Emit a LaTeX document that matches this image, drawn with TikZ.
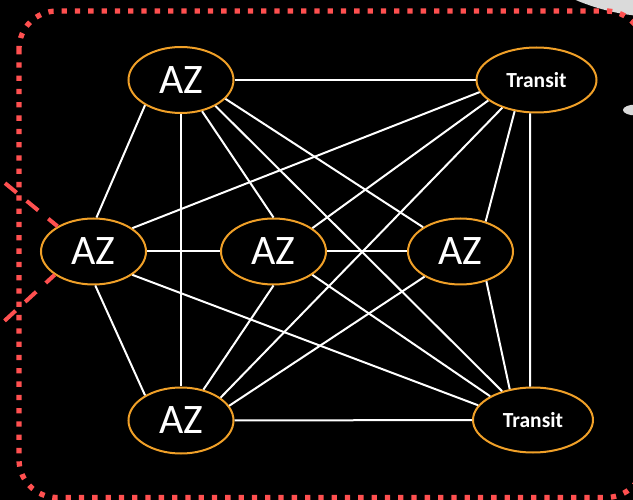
\documentclass[tikz,border=0pt]{standalone}
\usepackage{fontspec}
\setmainfont{Carlito}
\usetikzlibrary{shapes.geometric}
\definecolor{ornge}{RGB}{240,160,40}
\definecolor{redline}{RGB}{255,80,80}
\definecolor{lgray}{RGB}{218,218,218}
\begin{document}
\begin{tikzpicture}[x=1pt,y=-1pt,
  zone/.style={ellipse, draw=ornge, line width=2pt, fill=black, text=white, inner sep=0pt},
  az/.style={zone, minimum width=105pt, minimum height=66pt, font=\fontsize{42}{42}\selectfont},
  transit/.style={zone, minimum width=120pt, minimum height=65pt, font=\bfseries\fontsize{21.5}{22}\selectfont},
  link/.style={draw=white, line width=2pt},
  frame/.style={draw=redline, line width=5.3pt, dash pattern=on 5.3pt off 8pt, rounded corners=38pt},
  ray/.style={draw=redline, line width=4pt, dash pattern=on 15pt off 13pt, dash phase=3pt},
  blob/.style={fill=lgray, draw=none}]
\useasboundingbox (0,0) rectangle (633,500);
\clip (0,0) rectangle (633,500);
\fill[black] (0,0) rectangle (633,500);
% light grey shapes at the right edge
\fill[blob] (660,-200) circle[radius=217];
\fill[blob] (636,110) ellipse[x radius=13, y radius=5.5];
% nodes
\node[az] (A) at (181,80) {\raisebox{-2.5pt}{AZ}};
\node[transit] (T1) at (536.5,80) {\raisebox{-2pt}{Transit}};
\node[az] (L) at (93.5,251.5) {\raisebox{-2.5pt}{AZ}};
\node[az] (M) at (273.5,251.5) {\raisebox{-2.5pt}{AZ}};
\node[az] (R) at (460.5,251.5) {\raisebox{-2.5pt}{AZ}};
\node[az] (B) at (181,420.5) {\raisebox{-2.5pt}{AZ}};
\node[transit] (T2) at (533,420) {\raisebox{-2pt}{Transit}};
% connectors
\draw[link] (A.east) -- (T1.west);
\draw[link] (A.-145.8) -- (L.85.7);
\draw[link] (A.-56.2) -- (M.90);
\draw[link] (A.-23.6) -- (R.147.4);
\draw[link] (A.south) -- (B.north);
\draw[link] (A.-37.4) -- (T2.137.7);
\draw[link] (T1.-168.3) -- (L.31.9);
\draw[link] (T1.-157.8) -- (M.31.3);
\draw[link] (T1.-125.2) -- (R.50.2);
\draw[link] (T1.-141.1) -- (B.30.3);
\draw[link] (T1.-101) -- (T2.95);
\draw[link] (L.east) -- (M.west);
\draw[link] (L.-87.4) -- (B.145.9);
\draw[link] (L.-31.6) -- (T2.165.9);
\draw[link] (M.east) -- (R.west);
\draw[link] (M.-90) -- (B.54.7);
\draw[link] (M.-31.6) -- (T2.151.5);
\draw[link] (R.-145.9) -- (B.17);
\draw[link] (R.-49) -- (T2.127.8);
\draw[link] (B.east) -- (T2.west);
% red dashed rays at the left edge
\coordinate (u) at (0,179);
\coordinate (v) at (0,325);
\draw[ray] (L.145.5) -- (u);
\draw[ray] (L.211.4) -- (v);
% red dotted frame
\draw[frame] (19,11) rectangle (644,497.5);
\end{tikzpicture}
\end{document}
